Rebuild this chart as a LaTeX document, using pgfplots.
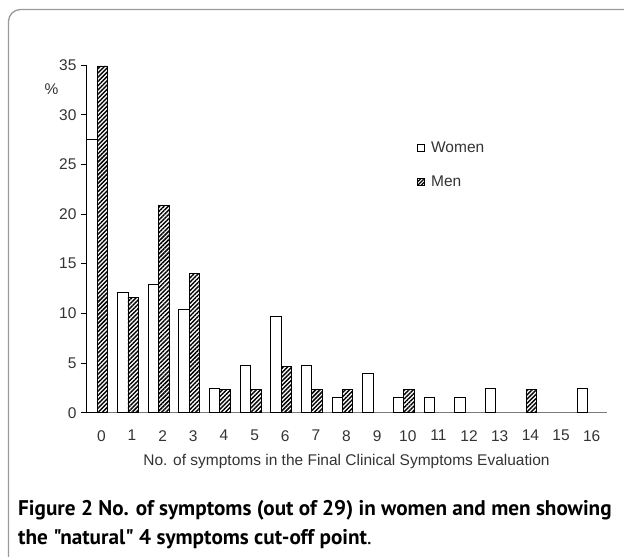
\documentclass[border=0pt]{standalone}
\usepackage{fontspec}
\setmainfont{Liberation Sans}
\newfontfamily\capfont{PT Sans}
\usepackage{pgfplots}
\pgfplotsset{compat=1.18}
\usetikzlibrary{patterns.meta}
\definecolor{txt}{HTML}{333333}
\definecolor{framegray}{HTML}{9A9A9A}
\definecolor{xaxisgray}{HTML}{7A7A7A}

\begin{document}
\begin{tikzpicture}[x=1pt,y=1pt]
\useasboundingbox (0,-557) rectangle (624,0);
\begin{scope}
  \clip (0,-557) rectangle (624,0);
  \draw[framegray, line width=1.3pt, rounded corners=12pt] (8.5,-9.5) rectangle (650,-620);
\end{scope}
\begin{axis}[
  at={(86pt,-412.7pt)}, anchor=south west,
  scale only axis, width=521pt, height=347.7pt,
  xmin=-0.5, xmax=16.5, ymin=0, ymax=35,
  xtick={0,...,16}, ytick={0,5,...,35},
  axis x line=bottom, axis y line=left,
  x axis line style={-, draw=xaxisgray, line width=1.2pt},
  y axis line style={-, draw=black, line width=0.8pt},
  xtick style={draw=none},
  ytick style={draw=black, line width=0.8pt},
  tick align=outside, major tick length=5pt,
  tick label style={font=\fontsize{15.5}{15.5}\selectfont, text=txt},
  /pgf/number format/assume math mode=true,
  xticklabel style={yshift=-9pt},
  yticklabel style={xshift=-1pt},
  xlabel={No. of symptoms in the Final Clinical Symptoms Evaluation},
  xlabel style={at={(axis description cs:0.5,-0.139)}, anchor=center,
    font=\fontsize{15.5}{15.5}\selectfont, text=txt},
  ylabel={\%},
  ylabel style={rotate=-90, at={(axis description cs:-0.066,0.931)}, anchor=center,
    font=\fontsize{15.5}{15.5}\selectfont, text=txt},
  clip=false,
  legend style={draw=none, fill=none, at={(axis description cs:0.635,0.785)},
    anchor=north west, font=\fontsize{15.5}{15.5}\selectfont, text=txt,
    row sep=18pt, inner sep=0pt},
  legend cell align=left,
]
\addplot[ybar, bar width=0.34, bar shift=-0.30, draw=black, fill=white, line width=0.9pt,
  legend image code/.code={\draw[black, line width=0.8pt, fill=white] (0pt,-3.5pt) rectangle (7pt,3.5pt);\path (11pt,0pt);}]
  coordinates {(0,27.5) (1,12.1) (2,12.9) (3,10.4) (4,2.4) (5,4.8) (6,9.7) (7,4.8)
    (8,1.5) (9,4.0) (10,1.5) (11,1.5) (12,1.5) (13,2.4) (16,2.4)};
\addlegendentry{Women}
\addplot[ybar, bar width=0.34, bar shift=0.04, draw=black, line width=0.9pt,
  pattern={Lines[angle=45, distance=3pt, line width=1.45pt]},
  legend image code/.code={\draw[black, line width=0.8pt, pattern={Lines[angle=45, distance=2.5pt, line width=1.3pt]}] (0pt,-3.5pt) rectangle (7pt,3.5pt);\path (11pt,0pt);}]
  coordinates {(0,34.9) (1,11.6) (2,20.9) (3,14.0) (4,2.3) (5,2.3) (6,4.7) (7,2.3)
    (8,2.3) (10,2.3) (14,2.3)};
\addlegendentry{Men}
\end{axis}
\node[anchor=base west, inner sep=0pt, font=\capfont\bfseries\fontsize{21.2}{21.2}\selectfont]
  at (18,-515) {Figure 2 No. of symptoms (out of 29) in women and men showing};
\node[anchor=base west, inner sep=0pt, font=\capfont\bfseries\fontsize{21.2}{21.2}\selectfont]
  at (18,-544) {the "natural" 4 symptoms cut-off point{\mdseries.}};
\end{tikzpicture}
\end{document}
